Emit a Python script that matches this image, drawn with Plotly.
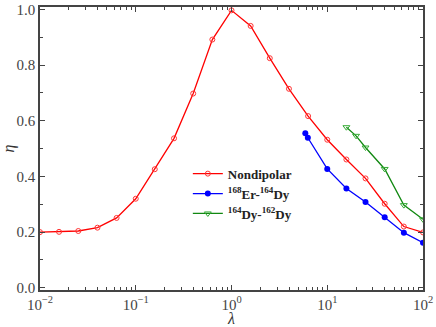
import numpy as np
import plotly.graph_objects as go

# Nondipolar
lam_nd = [0.01, 0.0158, 0.0251, 0.0398, 0.0631, 0.1, 0.158, 0.251, 0.398, 0.631,
          1.0, 1.585, 2.51, 3.98, 6.31, 10.0, 15.85, 25.1, 39.8, 63.1, 100.0]
eta_nd = [0.200, 0.201, 0.204, 0.216, 0.251, 0.320, 0.426, 0.537, 0.698, 0.892,
          0.997, 0.941, 0.825, 0.715, 0.617, 0.532, 0.461, 0.393, 0.302, 0.220, 0.199]

# 168Er-164Dy
lam_er = [5.9, 6.27, 10.0, 15.85, 25.1, 39.8, 63.1, 100.0]
eta_er = [0.555, 0.539, 0.427, 0.357, 0.308, 0.253, 0.198, 0.162]

# 164Dy-162Dy
lam_dy = [15.85, 20.0, 25.1, 39.8, 63.1, 100.0]
eta_dy = [0.577, 0.546, 0.504, 0.427, 0.297, 0.246]

x_ticks = [0.01, 0.1, 1, 10, 100]
x_text = ["10<sup>−2</sup>", "10<sup>−1</sup>", "10<sup>0</sup>", "10<sup>1</sup>", "10<sup>2</sup>"]
y_ticks = [0.0, 0.2, 0.4, 0.6, 0.8, 1.0]

minor_x = [m * 10.0 ** e for e in range(-2, 2) for m in range(2, 10)]

fig = go.Figure()
fig.add_trace(go.Scatter(x=lam_nd, y=eta_nd, mode="lines+markers", name="<b>Nondipolar</b>",
                         line=dict(color="#ff0000", width=1.3),
                         marker=dict(symbol="circle-open", size=5, color="#ff3333", line=dict(width=1))))
fig.add_trace(go.Scatter(x=lam_er, y=eta_er, mode="lines+markers",
                         name="<b><sup>168</sup>Er-<sup>164</sup>Dy</b>",
                         line=dict(color="#0000ff", width=1.3),
                         marker=dict(symbol="circle", size=6, color="#0000ff")))
fig.add_trace(go.Scatter(x=lam_dy, y=eta_dy, mode="lines+markers",
                         name="<b><sup>164</sup>Dy-<sup>162</sup>Dy</b>",
                         line=dict(color="#118811", width=1.3),
                         marker=dict(symbol="triangle-down-open", size=6, color="#33aa33", line=dict(width=1))))

axis_common = dict(showline=True, linecolor="#444", linewidth=1.5, mirror="ticks",
                   ticks="inside", ticklen=5, tickcolor="#444", showgrid=False, zeroline=False,
                   automargin=False,
                   tickfont=dict(family="Liberation Serif", size=15, color="#444"))

fig.update_xaxes(type="log", range=[-2, 2], tickvals=x_ticks, ticktext=x_text,
                 minor=dict(tickvals=minor_x, ticks="inside", ticklen=3, tickcolor="#444"),
                 title=dict(text="<i>λ</i>", font=dict(family="Liberation Serif", size=16, color="#333"), standoff=0),
                 **axis_common)
fig.update_yaxes(range=[-0.008, 1.009], tickvals=y_ticks, ticktext=["%.1f" % v for v in y_ticks],
                 minor=dict(dtick=0.1, ticks="inside", ticklen=3, tickcolor="#444"),
                 title=dict(text="<i>η</i>", font=dict(family="Liberation Serif", size=16, color="#333"), standoff=6),
                 **axis_common)

fig.update_layout(width=436, height=327, margin=dict(l=40, r=13, t=7, b=37),
                  plot_bgcolor="white", paper_bgcolor="white",
                  legend=dict(x=0.386, y=0.464, xanchor="left", yanchor="top",
                              font=dict(family="Liberation Serif", size=13, color="#222"),
                              bgcolor="rgba(0,0,0,0)", itemwidth=30, tracegroupgap=0),
                  showlegend=True)

# page body has a default 8px margin; drop it so the figure sits at the window corner
fig.write_html("out.html", config={"displayModeBar": False},
               post_script="document.body.style.margin='0px';")
